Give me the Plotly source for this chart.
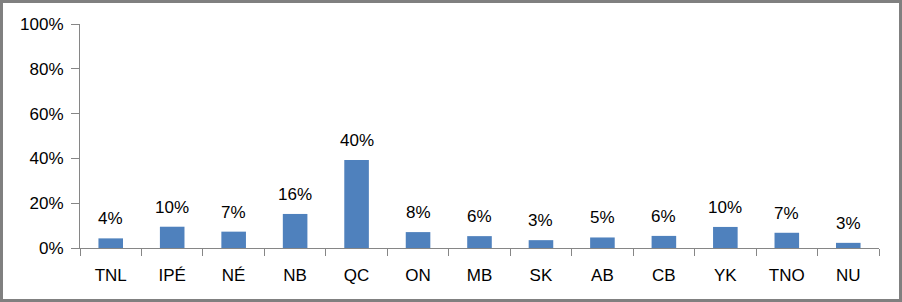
import plotly.graph_objects as go

categories = ["TNL", "IPÉ", "NÉ", "NB", "QC", "ON", "MB", "SK", "AB", "CB", "YK", "TNO", "NU"]
values = [0.043, 0.095, 0.073, 0.152, 0.393, 0.071, 0.053, 0.035, 0.047, 0.054, 0.094, 0.068, 0.023]
value_labels = ["4%", "10%", "7%", "16%", "40%", "8%", "6%", "3%", "5%", "6%", "10%", "7%", "3%"]
y_ticks = [0, 0.2, 0.4, 0.6, 0.8, 1.0]
y_tick_text = ["0%", "20%", "40%", "60%", "80%", "100%"]

W, H = 902, 302
ml, mr, mt, mb = 80, 23, 24, 54
pw, ph = W - ml - mr, H - mt - mb

FONT = "Liberation Sans, Arial, sans-serif"
AXIS = "#868686"

fig = go.Figure()
fig.add_trace(go.Bar(x=categories, y=values, marker=dict(color="#4F81BD", line=dict(width=0)),
                     hoverinfo="skip"))

for c, v, t in zip(categories, values, value_labels):
    fig.add_annotation(x=c, y=v, text=t, showarrow=False, yanchor="bottom", yshift=8,
                       font=dict(family=FONT, size=17, color="#000000"))

fig.add_shape(type="rect", xref="paper", yref="paper",
              x0=-(ml - 1.5) / pw, x1=1 + (mr - 1.5) / pw,
              y0=-(mb - 1.5) / ph, y1=1 + (mt - 1.5) / ph,
              line=dict(color="#808080", width=3))

fig.update_layout(
    width=W, height=H,
    margin=dict(l=ml, r=mr, t=mt, b=mb, pad=0),
    paper_bgcolor="white", plot_bgcolor="white",
    showlegend=False,
    bargap=0.6,
    font=dict(family=FONT, size=17, color="#000000"),
    xaxis=dict(type="category", range=[-0.5, len(categories) - 0.5],
               showline=True, linecolor=AXIS, linewidth=1,
               ticks="outside", ticklen=7, tickcolor=AXIS, tickson="boundaries",
               showgrid=False, zeroline=False, fixedrange=True,
               ticklabelstandoff=12,
               tickfont=dict(family=FONT, size=17, color="#000000")),
    yaxis=dict(range=[0, 1], tickvals=y_ticks, ticktext=y_tick_text,
               showline=True, linecolor=AXIS, linewidth=1,
               ticks="outside", ticklen=8, tickcolor=AXIS,
               showgrid=False, zeroline=False, fixedrange=True,
               ticklabelstandoff=4,
               tickfont=dict(family=FONT, size=17, color="#000000")),
)

fig.write_html("out.html")
